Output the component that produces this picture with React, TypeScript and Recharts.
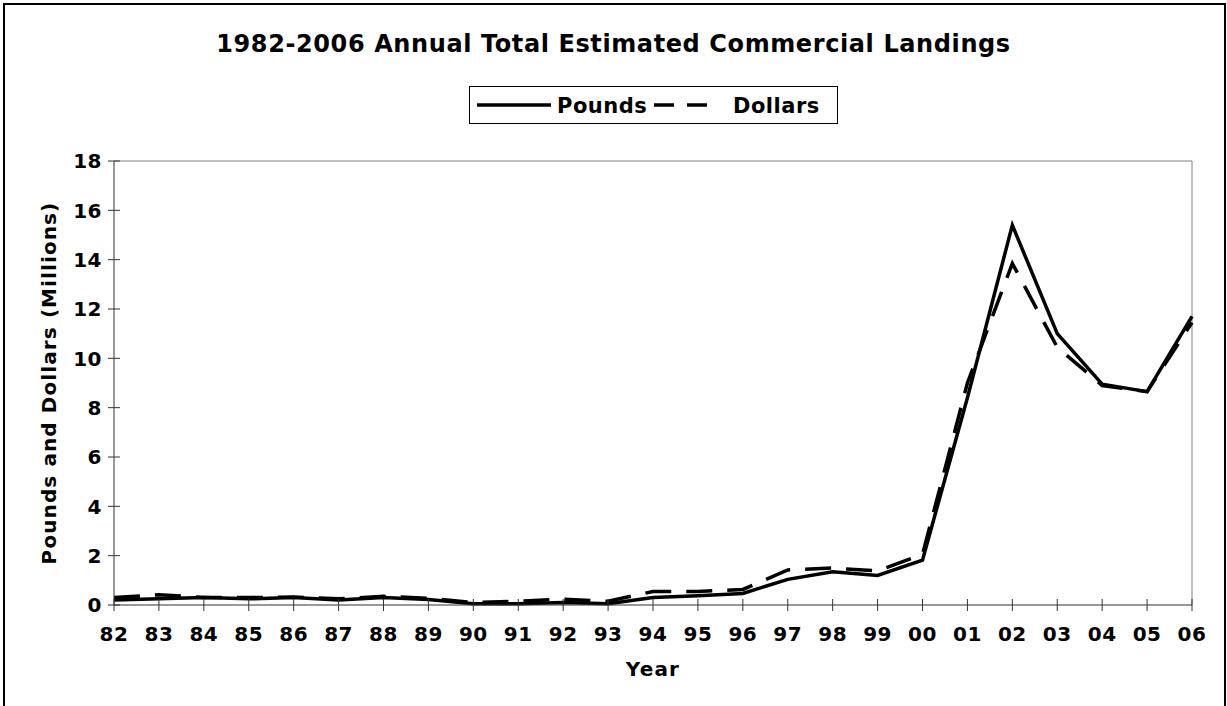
import React from "react";
import { LineChart, Line, XAxis, YAxis, ReferenceLine, Legend } from "recharts";

const years = ["82","83","84","85","86","87","88","89","90","91","92","93","94","95","96","97","98","99","00","01","02","03","04","05","06"];
const pounds = [0.2,0.25,0.3,0.25,0.3,0.2,0.3,0.22,0.05,0.05,0.1,0.05,0.3,0.38,0.47,1.04,1.35,1.2,1.82,8.4,15.4,11.0,8.95,8.65,11.7];
const dollars = [0.3,0.42,0.3,0.3,0.32,0.25,0.35,0.27,0.1,0.15,0.24,0.15,0.55,0.55,0.63,1.42,1.5,1.38,2.05,9.0,13.85,10.45,8.9,8.65,11.45];
const yTicks = [0,2,4,6,8,10,12,14,16,18];

const data = years.map((y, i) => ({ year: y, Pounds: pounds[i], Dollars: dollars[i] }));

const FONT = '"DejaVu Sans", Verdana, sans-serif';
const TICK_SIZE = 6;
const X_MARGIN = 16;
const Y_MARGIN = 6;

const XTick = (props: any) => {
  const { x, y, payload } = props;
  const axisY = y - TICK_SIZE - X_MARGIN;
  return (
    <g>
      <line x1={x} x2={x} y1={axisY - 6} y2={axisY + 6} stroke="#333" strokeWidth={1} />
      <text x={x} y={y} dy="0.71em" textAnchor="middle" fontFamily={FONT} fontWeight="bold" fontSize={20} letterSpacing={0.5} fill="#000">
        {payload.value}
      </text>
    </g>
  );
};

const YTick = (props: any) => {
  const { x, y, payload } = props;
  const axisX = x + TICK_SIZE + Y_MARGIN;
  return (
    <g>
      <line x1={axisX - 6} x2={axisX + 6} y1={y} y2={y} stroke="#333" strokeWidth={1} />
      <text x={x} y={y} dy="0.36em" textAnchor="end" fontFamily={FONT} fontWeight="bold" fontSize={20} letterSpacing={0.5} fill="#000">
        {payload.value}
      </text>
    </g>
  );
};

const LegendBox = () => (
  <div
    style={{
      position: "absolute",
      left: 469,
      top: 86,
      width: 367,
      height: 36,
      border: "1px solid #000",
      background: "#fff",
    }}
  >
    <svg width={367} height={36} style={{ position: "absolute", left: 0, top: 0 }}>
      <line x1={7} x2={81} y1={18} y2={18} stroke="#000" strokeWidth={3.5} />
      <text x={87} y={18} dy="0.36em" fontFamily={FONT} fontWeight="bold" fontSize={21} letterSpacing={0.5}>Pounds</text>
      <line x1={184} x2={204} y1={18} y2={18} stroke="#000" strokeWidth={3.5} />
      <line x1={217} x2={237} y1={18} y2={18} stroke="#000" strokeWidth={3.5} />
      <text x={263} y={18} dy="0.36em" fontFamily={FONT} fontWeight="bold" fontSize={21} letterSpacing={0.5}>Dollars</text>
    </svg>
  </div>
);

export default function App() {
  return (
    <div style={{ position: "absolute", left: 0, top: 0, width: 1227, height: 706, overflow: "hidden", background: "#fff" }}>
      <div
        style={{
          position: "absolute",
          left: 3,
          top: 3,
          width: 1219,
          height: 760,
          borderLeft: "2px solid #000",
          borderTop: "2px solid #000",
          borderRight: "2px solid #000",
        }}
      />
      <div
        style={{
          position: "absolute",
          left: 0,
          width: 1227,
          top: 29,
          textAlign: "center",
          fontFamily: FONT,
          fontWeight: "bold",
          fontSize: 24,
          letterSpacing: 0.6,
          lineHeight: "30px",
          color: "#000",
        }}
      >
        1982-2006 Annual Total Estimated Commercial Landings
      </div>
      <div style={{ position: "absolute", left: 0, top: 0 }}>
        <LineChart width={1227} height={706} data={data} margin={{ top: 161, right: 35, bottom: 71, left: 54 }}>
          <XAxis
            dataKey="year"
            height={30}
            stroke="#333"
            tickSize={TICK_SIZE}
            tickMargin={X_MARGIN}
            tickLine={false}
            tick={<XTick />}
            interval={0}
          />
          <YAxis
            width={60}
            domain={[0, 18]}
            ticks={yTicks}
            stroke="#333"
            tickSize={TICK_SIZE}
            tickMargin={Y_MARGIN}
            tickLine={false}
            tick={<YTick />}
            interval={0}
          />
          <ReferenceLine y={18} stroke="#808080" strokeWidth={1} />
          <ReferenceLine x="06" stroke="#808080" strokeWidth={1} />
          <Line type="linear" dataKey="Dollars" stroke="#000" strokeWidth={3.5} strokeDasharray="26 15" dot={false} isAnimationActive={false} />
          <Line type="linear" dataKey="Pounds" stroke="#000" strokeWidth={3.5} dot={false} isAnimationActive={false} />
          <Legend content={<LegendBox />} wrapperStyle={{ position: "absolute", left: 0, top: 0, width: 0, height: 0 }} />
        </LineChart>
      </div>
      <div
        style={{
          position: "absolute",
          left: 114,
          width: 1078,
          top: 657,
          textAlign: "center",
          fontFamily: FONT,
          fontWeight: "bold",
          fontSize: 20,
          letterSpacing: 1.2,
          lineHeight: "24px",
        }}
      >
        Year
      </div>
      <div
        style={{
          position: "absolute",
          left: 49,
          top: 383,
          transform: "translate(-50%, -50%) rotate(-90deg)",
          whiteSpace: "nowrap",
          fontFamily: FONT,
          fontWeight: "bold",
          fontSize: 20,
          letterSpacing: 1.1,
          lineHeight: "24px",
        }}
      >
        Pounds and Dollars (Millions)
      </div>
    </div>
  );
}
